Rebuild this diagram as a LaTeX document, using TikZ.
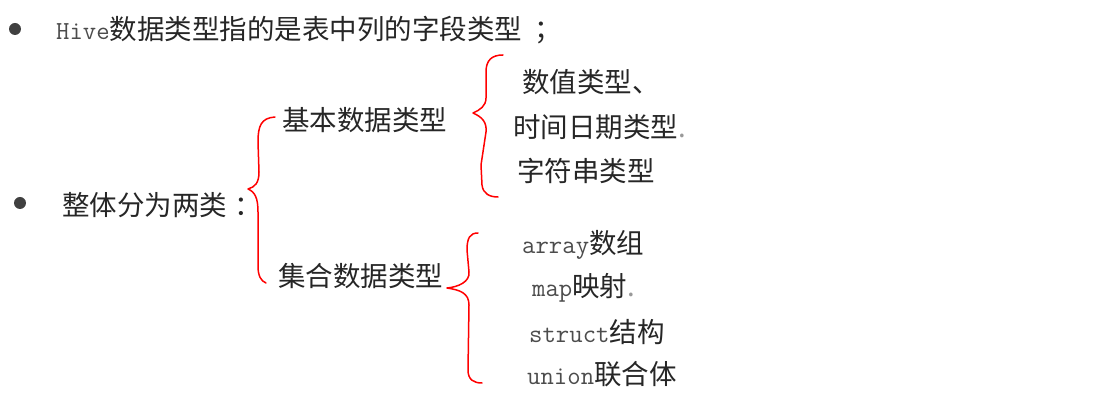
\documentclass[tikz,border=0pt]{standalone}
\usepackage{fontspec}
\setmainfont{Noto Sans CJK SC}
\usetikzlibrary{positioning}
\newcommand\lat[1]{{\ttfamily\fontsize{26}{30}\selectfont\color{black!70}#1}}

\begin{document}
\begin{tikzpicture}[x=1pt, y=-1pt,
  txt/.style={anchor=west, inner sep=0pt, text=black!85, font=\fontsize{27.5}{30}\selectfont},
  dot/.style={circle, inner sep=0pt, minimum size=12pt, fill=black!75},
  brace/.style={draw=red, line width=1.5pt, line cap=round, line join=round}]
\useasboundingbox (0,0) rectangle (1111,419);
\node[dot] (dot1) at (15,29) {};
\node[txt] (intro) at (56,30) {\lat{Hive}数据类型指的是表中列的字段类型\kern12pt；};
\node[dot] (dot2) at (20,203) {};
\node[txt] (whole) at (62,205) {整体分为两类\kern7pt：};

\node[txt] (basic) at (282,120) {基本数据类型};
\node[txt] (coll) at (278,276) {集合数据类型};

\node[txt] (num) at (522,82) {数值类型、};
\node[txt] (time) at (513,127) {时间日期类型{\color{black!40}.}};
\node[txt] (str) at (517,171) {字符串类型};

\node[txt] (arr) at (522,245) {\lat{array}数组};
\node[txt] (map) at (532,288) {\lat{map}映射{\color{black!40}.}};
\node[txt] (struct) at (529,332) {\lat{struct}结构};
\node[txt] (union) at (527,374) {\lat{union}联合体};

% hand drawn braces
\coordinate (ltop) at (275,117);
\coordinate (ltip) at (248,189);
\coordinate (lbot) at (266,283);
\coordinate (b1top) at (503,55);
\coordinate (b1tip) at (473,113);
\coordinate (b1bot) at (498,197);
\coordinate (b2top) at (478,233);
\coordinate (b2tip) at (447,288);
\coordinate (b2bot) at (482,383);

\draw[brace] (ltop) .. controls (261,118) and (258,126) .. (258,142) -- (259,172) .. controls (259,183) and (255,187) .. (ltip) .. controls (255,192) and (258,198) .. (258,212) -- (258,266) .. controls (258,276) and (261,281) .. (lbot);
\draw[brace] (b1top) .. controls (492,55) and (486,60) .. (486,72) -- (486,98) .. controls (486,106) and (480,110) .. (b1tip) .. controls (482,117) and (487,122) .. (486,132) -- (481,165) -- (482,185) .. controls (483,194) and (490,197) .. (b1bot);
\draw[brace] (b2top) .. controls (470,233) and (467,238) .. (467,250) -- (469,272) .. controls (470,282) and (458,287) .. (b2tip) .. controls (460,290) and (469,293) .. (469,305) -- (468,370) .. controls (468,380) and (474,383) .. (b2bot);
\end{tikzpicture}
\end{document}
